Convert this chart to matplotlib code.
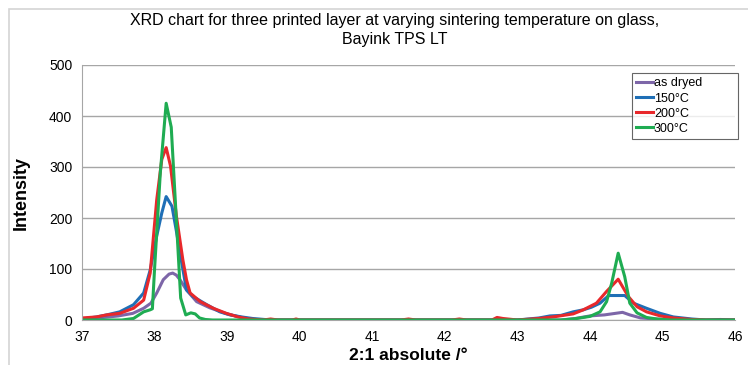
import matplotlib.pyplot as plt
from matplotlib.patches import Rectangle

plt.rcParams["font.family"] = ["Liberation Sans", "DejaVu Sans"]

# 2-theta positions and intensities, one pair per sample
theta_dryed = [37.0, 37.3, 37.5, 37.7, 37.85, 37.95, 38.03, 38.12, 38.2, 38.25, 38.3, 38.35,
               38.44, 38.58, 38.76, 39.0, 39.2, 39.4, 43.6, 43.8, 44.0, 44.2, 44.3, 44.45,
               44.55, 44.7, 45.0, 45.3, 46.0]
int_dryed = [0, 5, 8, 13, 23, 33, 53, 79, 90, 92, 88, 79,
             59, 36, 24, 12, 5, 0, 0, 3, 8, 10, 12, 15,
             10, 4, 1, 0, 0]

theta_150 = [37.0, 37.2, 37.34, 37.52, 37.71, 37.85, 37.94, 38.03, 38.1, 38.16, 38.24, 38.3,
             38.35, 38.44, 38.53, 38.72, 38.9, 39.04, 39.2, 39.35, 39.6, 43.0, 43.3, 43.45,
             43.6, 43.77, 43.91, 44.02, 44.14, 44.26, 44.48, 44.6, 44.78, 44.97, 45.15, 45.4,
             45.6, 45.8, 46.0]
int_150 = [2, 6, 10, 16, 30, 53, 98, 165, 210, 242, 223, 175,
           132, 59, 46, 30, 16, 10, 6, 3, 0, 0, 4, 8,
           9, 16, 20, 25, 33, 48, 48, 33, 23, 13, 6, 2,
           0, 1, 0]

theta_200 = [37.0, 37.2, 37.34, 37.52, 37.71, 37.85, 37.94, 38.03, 38.1, 38.16, 38.22, 38.3,
             38.39, 38.44, 38.49, 38.63, 38.81, 38.99, 39.15, 39.3, 39.5, 39.6, 39.7, 39.9,
             39.95, 40.0, 40.1, 41.4, 41.5, 41.6, 42.1, 42.2, 42.3, 42.65, 42.72, 42.8,
             43.0, 43.3, 43.54, 43.77, 43.91, 44.09, 44.23, 44.39, 44.53, 44.65, 44.78, 44.97,
             45.15, 45.4, 45.6, 46.0]
int_200 = [4, 6, 10, 13, 23, 39, 92, 236, 315, 338, 302, 205,
           118, 79, 53, 36, 23, 13, 6, 2, 0, 2, 0, 0,
           2, 0, 0, 0, 2, 0, 0, 2, 0, 0, 5, 3,
           0, 3, 7, 12, 20, 33, 56, 80, 46, 26, 16, 8,
           4, 1, 0, 0]

theta_300 = [37.0, 37.55, 37.71, 37.85, 37.94, 37.97, 38.0, 38.08, 38.16, 38.23, 38.36, 38.43,
             38.5, 38.56, 38.62, 38.7, 38.8, 43.6, 43.77, 44.0, 44.14, 44.23, 44.3, 44.39,
             44.48, 44.55, 44.65, 44.78, 44.92, 45.1, 46.0]
int_300 = [0, 0, 3, 16, 20, 22, 100, 290, 425, 378, 43, 10,
           14, 12, 4, 1, 0, 0, 2, 7, 16, 36, 72, 131,
           85, 33, 14, 5, 2, 0, 0]

series = [
    ("as dryed", theta_dryed, int_dryed, "#7d66a8"),
    ("150°C", theta_150, int_150, "#1f6fb6"),
    ("200°C", theta_200, int_200, "#e8282b"),
    ("300°C", theta_300, int_300, "#1fac52"),
]

fig = plt.figure(figsize=(7.48, 3.65), dpi=100)
ax = fig.add_axes([82 / 748, 1 - 320 / 365, 653 / 748, 255 / 365])

for label, theta, inten, color in series:
    ax.plot(theta, inten, color=color, lw=2.2, label=label, solid_joinstyle="round")

ax.set_xlim(37, 46)
ax.set_ylim(0, 500)
ax.set_xticks(range(37, 47))
ax.set_yticks(range(0, 501, 100))
ax.yaxis.grid(True, color="#a6a6a6", lw=1)
ax.set_axisbelow(True)
for side in ("top", "right"):
    ax.spines[side].set_visible(False)
for side in ("left", "bottom"):
    ax.spines[side].set_color("#a6a6a6")
ax.tick_params(length=0, labelsize=10, pad=7)

ax.set_ylabel("Intensity", fontsize=13, fontweight="bold", labelpad=14)
ax.set_xlabel("2:1 absolute /°", fontsize=12.5, fontweight="bold", labelpad=3)

fig.text(395 / 748, 1 - 30 / 365,
         "XRD chart for three printed layer at varying sintering temperature on glass,\nBayink TPS LT",
         ha="center", va="center", fontsize=11.5, linespacing=1.35)

# legend box spans roughly x 632-738, y 73-139 in the picture
leg = ax.legend(loc="upper left", bbox_to_anchor=((632 - 82) / 653, (320 - 73) / 255, 106 / 653, 0),
                mode="expand", fontsize=9, frameon=True, fancybox=False,
                handlelength=1.3, handletextpad=0.1, borderpad=0.35, labelspacing=0.25,
                borderaxespad=0)
leg.get_frame().set_edgecolor("#404040")
leg.get_frame().set_linewidth(0.8)

fig.patches.append(Rectangle((9 / 748, -0.1), 1.2, 1.1 - 9 / 365, transform=fig.transFigure,
                             fill=False, edgecolor="#d4d4d4", lw=1.2))

fig.savefig("out.png", dpi=100)
